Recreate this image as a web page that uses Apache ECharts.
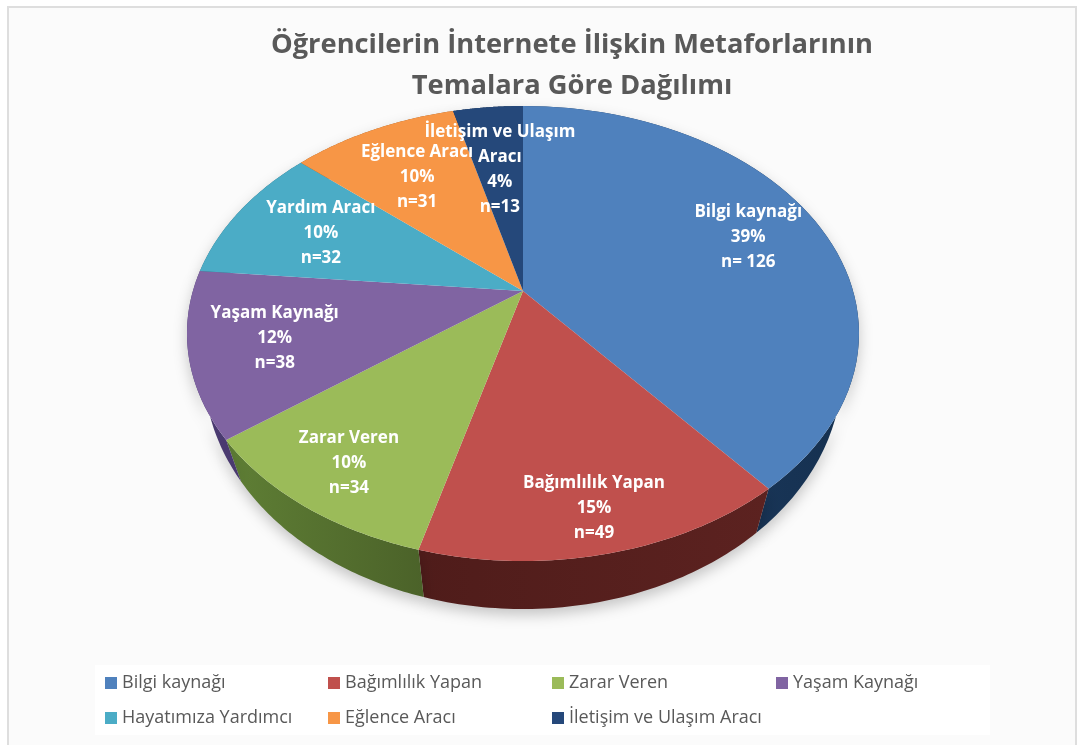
<!DOCTYPE html>
<html>
<head>
<meta charset="utf-8">
<style>
html, body { margin: 0; padding: 0; background: #fff; }
#main { width: 1078px; height: 745px; }
</style>
<script src="https://cdn.jsdelivr.net/npm/echarts@6/dist/echarts.min.js"></script>
</head>
<body>
<div id="main"></div>
<script>
// chart data
var legendNames = ['Bilgi kaynağı', 'Bağımlılık Yapan', 'Zarar Veren', 'Yaşam Kaynağı', 'Hayatımıza Yardımcı', 'Eğlence Aracı', 'İletişim ve Ulaşım Aracı'];
var labelNames = ['Bilgi kaynağı', 'Bağımlılık Yapan', 'Zarar Veren', 'Yaşam Kaynağı', 'Yardım Aracı', 'Eğlence Aracı', 'İletişim ve Ulaşım\nAracı'];
var values = [126, 49, 34, 38, 32, 31, 13];
var percents = ['39%', '15%', '10%', '12%', '10%', '10%', '4%'];
var countLabels = ['n= 126', 'n=49', 'n=34', 'n=38', 'n=32', 'n=31', 'n=13'];
var titleText = 'Öğrencilerin İnternete İlişkin Metaforlarının\nTemalara Göre Dağılımı';

// looks
var topColors = ['#4f81bd', '#c0504d', '#9bbb59', '#8064a2', '#4bacc6', '#f79646', '#25487a'];
var wallColors = [
    ['#1f3f68', '#15304f'],
    ['#4f1c1a', '#5c2220'],
    ['#5f7f35', '#4b6229'],
    ['#4a3a70', '#4a3a70'],
    ['#2b6a7c', '#2b6a7c'],
    ['#99551f', '#99551f'],
    ['#142c4d', '#142c4d']
];
var labelRadius = [0.76, 0.855, 0.823, 0.752, 0.7, 0.675, 0.62];
var legendLeft = [100, 323, 547, 771, 100, 323, 547];
var legendTop = [669, 669, 669, 669, 704, 704, 704];

// tilted disc, the apex sits above the middle of the ellipse (perspective)
var cx = 523, cy = 291, upper = 185, lower = 270, halfWide = 336;
var persp = (lower - upper) / (lower + upper);
var b = upper * (1 + persp);
var a = halfWide * Math.sqrt(1 - persp * persp);
var midY = cy + (lower - upper) / 2;
// floor of the pie is a narrower, taller ellipse further down
var floorScaleX = 0.95, floorScaleY = 1.055, floorMidY = 369;

var total = values.reduce(function (s, v) { return s + v; }, 0);

function project(angle, r) {
    var u = Math.sin(angle) * r, v = -Math.cos(angle) * r;
    var d = 1 - persp * v;
    return [cx + a * u / d, cy + b * v / d];
}
function dropped(p) {
    return [cx + (p[0] - cx) * floorScaleX, floorMidY + (p[1] - midY) * floorScaleY];
}

function makeRenderItem(index) {
    return function (params, api) {
        var before = 0;
        for (var i = 0; i < index; i++) before += values[i];
        var start = before / total * Math.PI * 2;
        var end = (before + api.value(0)) / total * Math.PI * 2;
        var steps = 60;
        var rim = [];
        for (var s = 0; s <= steps; s++) {
            rim.push(project(start + (end - start) * s / steps, 1));
        }
        var wall = rim.concat(rim.map(dropped).reverse());
        var mid = (start + end) / 2;
        var at = project(mid, labelRadius[index]);
        return {
            type: 'group',
            children: [{
                type: 'polygon',
                z2: 1 + (Math.cos(mid) < 0 ? index : 0),
                shape: { points: wall },
                style: {
                    fill: new echarts.graphic.LinearGradient(0, 0, 1, 0, [
                        { offset: 0, color: wallColors[index][0] },
                        { offset: 1, color: wallColors[index][1] }
                    ]),
                    shadowBlur: 14,
                    shadowOffsetY: 6,
                    shadowColor: 'rgba(0,0,0,0.22)'
                }
            }, {
                type: 'polygon',
                z2: 20,
                shape: { points: [[cx, cy]].concat(rim) },
                style: { fill: topColors[index] }
            }, {
                type: 'text',
                z2: 40,
                x: at[0],
                y: at[1],
                style: {
                    text: labelNames[index] + '\n' + percents[index] + '\n' + countLabels[index],
                    fill: '#fff',
                    font: 'bold 17px "Open Sans"',
                    lineHeight: 25,
                    align: 'center',
                    verticalAlign: 'middle'
                }
            }]
        };
    };
}

var chart = echarts.init(document.getElementById('main'));
chart.setOption({
    backgroundColor: '#fff',
    animation: false,
    title: {
        text: titleText,
        left: 567,
        top: 20,
        textAlign: 'center',
        textStyle: {
            color: '#595959',
            fontFamily: 'Open Sans',
            fontWeight: 'bold',
            fontSize: 27.3,
            lineHeight: 41
        }
    },
    graphic: [{
        type: 'rect',
        silent: true,
        z: -1,
        shape: { x: 8, y: 7, width: 1068, height: 745 },
        style: { fill: '#fbfbfb', stroke: '#dedede', lineWidth: 2 }
    }, {
        type: 'rect',
        silent: true,
        z: -1,
        shape: { x: 95, y: 665, width: 895, height: 70 },
        style: { fill: '#fff' }
    }],
    legend: legendNames.map(function (name, i) {
        return {
            data: [name],
            left: legendLeft[i],
            top: legendTop[i],
            icon: 'rect',
            itemWidth: 12,
            itemHeight: 12,
            selectedMode: false,
            textStyle: { color: '#595959', fontFamily: 'Open Sans', fontSize: 18 }
        };
    }),
    series: legendNames.map(function (name, i) {
        return {
            type: 'custom',
            name: name,
            coordinateSystem: 'none',
            silent: true,
            itemStyle: { color: topColors[i] },
            data: [values[i]],
            renderItem: makeRenderItem(i)
        };
    })
});
</script>
</body>
</html>
